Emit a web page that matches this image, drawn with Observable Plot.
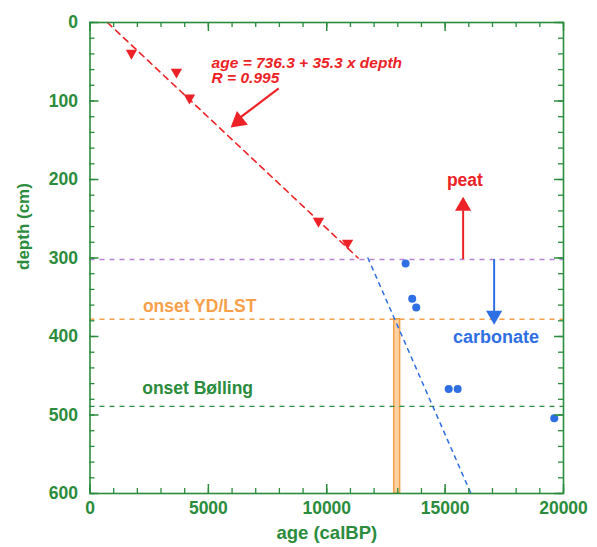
<!DOCTYPE html>
<html>
<head>
<meta charset="utf-8">
<script src="https://cdn.jsdelivr.net/npm/d3@7"></script>
<script src="https://cdn.jsdelivr.net/npm/@observablehq/plot@0.6"></script>
<style>
  html, body { margin: 0; padding: 0; background: #fff; }
  svg { display: block; }
</style>
</head>
<body>
<div id="chart"></div>
<script>
// ---- data ----
const peatAges   = [1750, 3650, 4200, 9650, 10880];
const peatDepths = [39, 63, 96, 253, 281];
const carbAges   = [13330, 13610, 13780, 15150, 15530, 19610];
const carbDepths = [307, 352, 363, 467, 467, 504];
const regIntercept = 736.3, regSlope = 35.3, regDepthEnd = 300;
const carbLineAges = [11740, 16090];
const carbLineDepths = [300, 600];
const horizonNames = ["peat/carbonate", "onset YD/LST", "onset Bølling"];
const horizonDepths = [302, 378, 489];
const ydBandAges = [12850, 13100];
const ydBandDepths = [378, 600];
const xTickLabels = [0, 5000, 10000, 15000, 20000];
const yTickLabels = [0, 100, 200, 300, 400, 500, 600];

// ---- styling ----
const GREEN = "#2a8c3c", RED = "#ec2227", BLUE = "#2f6fe4", ORANGE = "#f7a04a", PURPLE = "#b884d8";
const FONT = "Liberation Sans, Arial, Helvetica, sans-serif";
const W = 597, H = 547, mL = 89.5, mR = 34, mT = 22, mB = 54;
const PH = H - mT - mB;
const PW = W - mL - mR;

const peat = peatAges.map((a, i) => ({age: a, depth: peatDepths[i]}));
const carb = carbAges.map((a, i) => ({age: a, depth: carbDepths[i]}));
const regLine = [0, regDepthEnd].map(d => ({age: regIntercept + regSlope * d, depth: d}));
const carbLine = carbLineAges.map((a, i) => ({age: a, depth: carbLineDepths[i]}));
const xMinor = d3.range(0, 20001, 1000);
const yMinor = d3.range(0, 601, 20);

const horizonColors = [PURPLE, ORANGE, GREEN];

const chart = Plot.plot({
  width: W, height: H,
  marginLeft: mL, marginRight: mR, marginTop: mT, marginBottom: mB,
  style: {fontFamily: FONT, background: "white"},
  x: {domain: [0, 20000]},
  y: {domain: [0, 600], reverse: true},
  marks: [
    // YD band
    Plot.rect([0], {x1: ydBandAges[0], x2: ydBandAges[1], y1: ydBandDepths[0], y2: ydBandDepths[1],
      fill: "#fbd0a2", stroke: ORANGE, strokeWidth: 1.5}),
    // horizons
    Plot.ruleY(horizonDepths.map((d, i) => ({d, i})), {y: "d", stroke: d => horizonColors[d.i],
      strokeWidth: 1.4, strokeDasharray: "5,5"}),
    // regression lines
    Plot.line(regLine, {x: "age", y: "depth", stroke: RED, strokeWidth: 1.6, strokeDasharray: "6,5"}),
    Plot.line(carbLine, {x: "age", y: "depth", stroke: BLUE, strokeWidth: 1.5, strokeDasharray: "4,5"}),
    // points
    Plot.dot(peat, {x: "age", y: "depth", symbol: "triangle", r: 4.2, rotate: 180, fill: RED, stroke: "none"}),
    Plot.dot(carb, {x: "age", y: "depth", r: 4, fill: BLUE, stroke: "none"}),
    // peat arrow (up)
    Plot.ruleX([15760], {x: d => d, y1: 302, y2: 240, stroke: RED, strokeWidth: 2}),
    Plot.dot([15760], {x: d => d, y: 234, symbol: "triangle", r: 6, fill: RED, stroke: "none"}),
    // carbonate arrow (down)
    Plot.ruleX([17070], {x: d => d, y1: 302, y2: 368, stroke: BLUE, strokeWidth: 2}),
    Plot.dot([17070], {x: d => d, y: 373, symbol: "triangle", r: 6, rotate: 180, fill: BLUE, stroke: "none"}),
    // annotation arrow for the regression
    Plot.link([0], {x1: 7970, y1: 84, x2: 6350, y2: 121, stroke: RED, strokeWidth: 2.2}),
    Plot.dot([0], {x: 6271, y: 125.6, symbol: "triangle", r: 6.5, rotate: 231, fill: RED, stroke: "none"}),
    // texts
    Plot.text(["age = 736.3 + 35.3 x depth"], {x: 5137, y: 51, text: d => d, textAnchor: "start",
      fill: RED, fontSize: 15.5, fontWeight: "bold", fontStyle: "italic"}),
    Plot.text(["R = 0.995"], {x: 5137, y: 71, text: d => d, textAnchor: "start",
      fill: RED, fontSize: 15.5, fontWeight: "bold", fontStyle: "italic"}),
    Plot.text(["peat"], {x: 15835, y: 201, text: d => d, fill: RED, fontSize: 17.5, fontWeight: "bold"}),
    Plot.text(["carbonate"], {x: 17146, y: 401, text: d => d, fill: BLUE, fontSize: 18, fontWeight: "bold"}),
    Plot.text([horizonNames[1]], {x: 4630, y: 362, text: d => d, fill: ORANGE, fontSize: 17.5, fontWeight: "bold"}),
    Plot.text([horizonNames[2]], {x: 4545, y: 466, text: d => d, fill: GREEN, fontSize: 17.5, fontWeight: "bold"}),
    // inward ticks, all four sides
    Plot.tickX(xMinor, {x: d => d, insetTop: PH - 5, stroke: GREEN, strokeWidth: 1.3}),
    Plot.tickX(xMinor, {x: d => d, insetBottom: PH - 5, stroke: GREEN, strokeWidth: 1.3}),
    Plot.tickX(xTickLabels, {x: d => d, insetTop: PH - 9, stroke: GREEN, strokeWidth: 1.5}),
    Plot.tickX(xTickLabels, {x: d => d, insetBottom: PH - 9, stroke: GREEN, strokeWidth: 1.5}),
    Plot.tickY(yMinor, {y: d => d, insetRight: PW - 5, stroke: GREEN, strokeWidth: 1.3}),
    Plot.tickY(yMinor, {y: d => d, insetLeft: PW - 5, stroke: GREEN, strokeWidth: 1.3}),
    Plot.tickY(yTickLabels, {y: d => d, insetRight: PW - 9, stroke: GREEN, strokeWidth: 1.5}),
    Plot.tickY(yTickLabels, {y: d => d, insetLeft: PW - 9, stroke: GREEN, strokeWidth: 1.5}),
    Plot.frame({stroke: GREEN, strokeWidth: 1.6}),
    // axes
    Plot.axisX(xTickLabels, {anchor: "bottom", tickSize: 0, tickPadding: 8, tickFormat: d3.format("d"),
      fill: GREEN, fontSize: 17.5, fontWeight: "bold", label: null}),
    Plot.axisY(yTickLabels, {anchor: "left", tickSize: 0, tickPadding: 12, tickFormat: d3.format("d"),
      fill: GREEN, fontSize: 17.5, fontWeight: "bold", label: null}),
    Plot.text(["age (calBP)"], {frameAnchor: "bottom", dy: 45, text: d => d, fill: GREEN, fontSize: 18.5, fontWeight: "bold"}),
    Plot.text(["depth (cm)"], {frameAnchor: "left", dx: -66, dy: 12, rotate: -90, text: d => d, fill: GREEN, fontSize: 17, fontWeight: "bold"})
  ]
});
document.getElementById("chart").appendChild(chart);
</script>
</body>
</html>
